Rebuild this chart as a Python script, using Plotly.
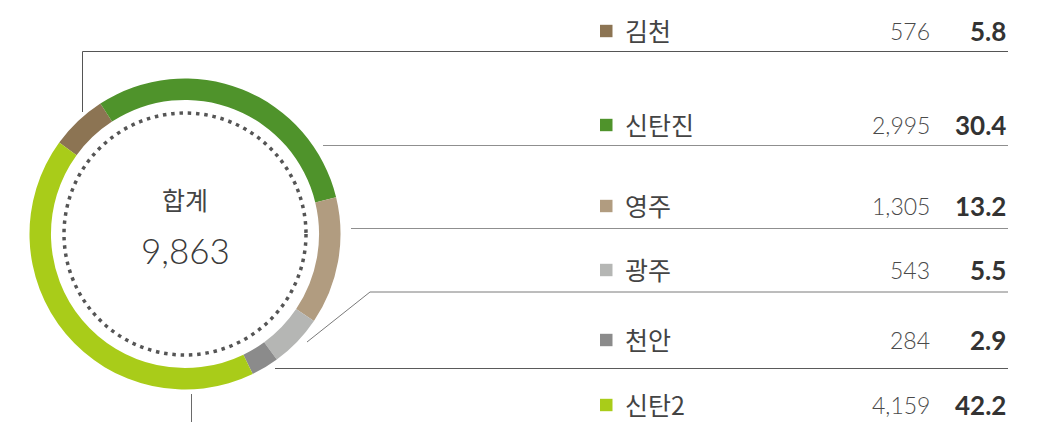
import plotly.graph_objects as go

# ---- data ----
names = ["김천", "신탄진", "영주", "광주", "천안", "신탄2"]
values = [576, 2995, 1305, 543, 284, 4159]
percents = ["5.8", "30.4", "13.2", "5.5", "2.9", "42.2"]
value_labels = ["576", "2,995", "1,305", "543", "284", "4,159"]
total_label = "9,863"
total_title = "합계"
colors = ["#8c7453", "#4f932b", "#b19c80", "#b5b6b4", "#8b8b8b", "#a9cc19"]

W, H = 1051, 422
CX, CY, R = 185, 234, 155.5


def px(x):
    return x / W


def py(y):
    return 1 - y / H


fig = go.Figure()
fig.add_trace(go.Pie(
    labels=names, values=values, sort=False, direction="clockwise",
    rotation=-54, hole=0.862,
    marker=dict(colors=colors, line=dict(width=0)),
    textinfo="none", hoverinfo="label+value+percent", showlegend=False,
    domain=dict(x=[px(CX - R), px(CX + R)], y=[py(CY + R), py(CY - R)]),
))

shapes = []
# dotted inner ring
RD = 121
shapes.append(dict(type="circle", xref="paper", yref="paper",
                   x0=px(CX - RD), x1=px(CX + RD), y0=py(CY + RD), y1=py(CY - RD),
                   line=dict(color="#555555", width=3.5, dash="3.5px,4.8px")))

XR = 1008
# leader lines
paths = [
    f"M {px(82.5)} {py(112)} L {px(82.5)} {py(51.5)} L {px(XR)} {py(51.5)}",
    f"M {px(323)} {py(145.5)} L {px(XR)} {py(145.5)}",
    f"M {px(351)} {py(228.5)} L {px(XR)} {py(228.5)}",
    f"M {px(307)} {py(342)} L {px(370)} {py(292)} L {px(XR)} {py(292)}",
    f"M {px(275)} {py(368.5)} L {px(XR)} {py(368.5)}",
    f"M {px(191.5)} {py(394)} L {px(191.5)} {py(422)}",
]
line_colors = ["#555555", "#8f8f8f", "#8f8f8f", "#7a7a7a", "#5a5a5a", "#6a6a6a"]
for p, c in zip(paths, line_colors):
    shapes.append(dict(type="path", xref="paper", yref="paper", path=p,
                       line=dict(color=c, width=1)))

NUM_FONT = "Lato, 'Noto Sans CJK KR'"
row_y = [31, 125, 206, 270, 340, 405]
annotations = []
for i, (n, v, pc, c, y) in enumerate(zip(names, value_labels, percents, colors, row_y)):
    shapes.append(dict(type="rect", xref="paper", yref="paper",
                       x0=px(600), x1=px(612.5), y0=py(y + 6.2), y1=py(y - 6.2),
                       fillcolor=c, line=dict(width=0)))
    annotations.append(dict(x=px(623), y=py(y - 1), xref="paper", yref="paper",
                            text=n, showarrow=False, xanchor="left", yanchor="middle",
                            font=dict(family="Noto Sans CJK KR", size=25, color="#444444")))
    annotations.append(dict(x=px(932), y=py(y), xref="paper", yref="paper",
                            text=v, showarrow=False, xanchor="right", yanchor="middle",
                            font=dict(family=NUM_FONT, size=23, color="#4a4a4a",
                                      weight=300)))
    annotations.append(dict(x=px(1008), y=py(y), xref="paper", yref="paper",
                            text=pc, showarrow=False, xanchor="right", yanchor="middle",
                            font=dict(family=NUM_FONT, size=26, color="#333333",
                                      weight="bold")))

annotations.append(dict(x=px(CX), y=py(199), xref="paper", yref="paper",
                        text=total_title, showarrow=False, xanchor="center", yanchor="middle",
                        font=dict(family="Noto Sans CJK KR", size=25, color="#444444")))
annotations.append(dict(x=px(CX), y=py(250), xref="paper", yref="paper",
                        text=total_label, showarrow=False, xanchor="center", yanchor="middle",
                        font=dict(family=NUM_FONT, size=35, color="#3a3a3a",
                                  weight=300)))

fig.update_layout(
    width=W, height=H, margin=dict(l=0, r=0, t=0, b=0),
    paper_bgcolor="white", plot_bgcolor="white",
    shapes=shapes, annotations=annotations,
)
fig.write_html("out.html", config={"displayModeBar": False},
               post_script="document.body.style.margin='0';document.body.style.overflow='hidden';")
